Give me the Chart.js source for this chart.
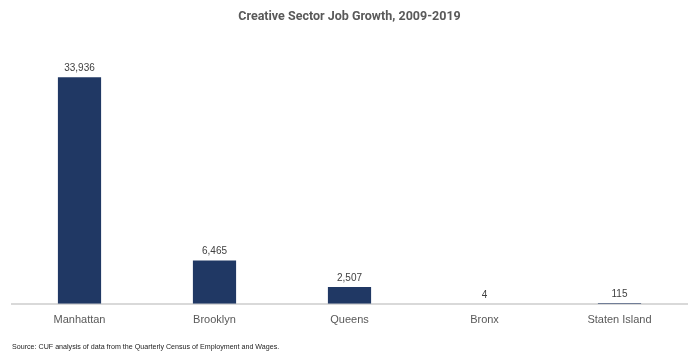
<!DOCTYPE html>
<html><head><meta charset="utf-8">
<script src="https://cdn.jsdelivr.net/npm/chart.js@4/dist/chart.umd.min.js"></script>
<style>
html,body{margin:0;padding:0;background:#fff;}
#wrap{position:relative;width:699px;height:358px;}
#src{position:absolute;left:12px;top:342px;font-family:"Liberation Sans",Arial,sans-serif;font-size:8px;color:#222;white-space:nowrap;transform:scaleX(0.89);transform-origin:left top;}
</style></head><body>
<div id="wrap"><canvas id="c" width="699" height="358"></canvas>
<div id="src">Source: CUF analysis of data from the Quarterly Census of Employment and Wages.</div></div>
<script>
const categories = ["Manhattan","Brooklyn","Queens","Bronx","Staten Island"];
const jobGrowth = [33936, 6465, 2507, 4, 115];

const labelPlugin = {
  id:'barLabels',
  afterDatasetsDraw(chart){
    const ctx = chart.ctx;
    const meta = chart.getDatasetMeta(0);
    ctx.save();
    ctx.font = '10px "Liberation Sans", Arial, sans-serif';
    ctx.fillStyle = '#404040';
    ctx.textAlign = 'center';
    ctx.textBaseline = 'bottom';
    meta.data.forEach((bar,i)=>{
      ctx.fillText(jobGrowth[i].toLocaleString('en-US'), bar.x, bar.y - 4);
    });
    ctx.restore();
  }
};

new Chart(document.getElementById('c'),{
  type:'bar',
  data:{labels:categories,datasets:[{data:jobGrowth,backgroundColor:'#203864',barPercentage:0.64,categoryPercentage:0.5}]},
  options:{
    responsive:false,animation:false,
    layout:{padding:{left:12,right:12,top:0,bottom:21}},
    plugins:{
      legend:{display:false},tooltip:{enabled:false},
      title:{display:true,text:'Creative Sector Job Growth, 2009-2019',color:'#595959',
        font:{family:'Roboto, "Liberation Sans", sans-serif',size:12.5,weight:'bold'},padding:{top:9,bottom:16}}
    },
    scales:{
      x:{grid:{display:false,drawTicks:false},border:{color:'#d9d9d9',width:2},
         ticks:{color:'#595959',padding:10,font:{family:'"Liberation Sans", Arial, sans-serif',size:11}}},
      y:{display:false,min:0,max:39500}
    }
  },
  plugins:[labelPlugin]
});
</script></body></html>
